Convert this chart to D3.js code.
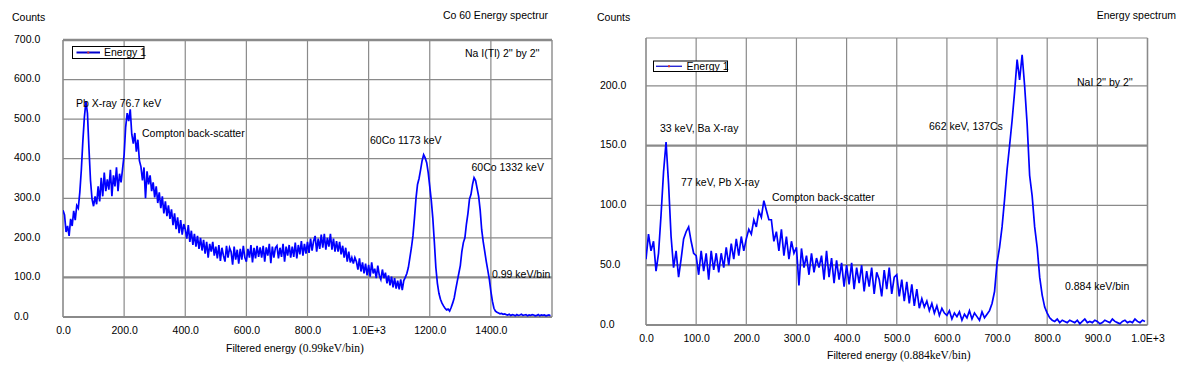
<!DOCTYPE html>
<html><head><meta charset="utf-8">
<script src="https://cdn.jsdelivr.net/npm/d3@7"></script>
<style>
html,body{margin:0;padding:0;background:#fff;}
svg{display:block;}
text{font-family:"Liberation Sans",Arial,sans-serif;fill:#000;}
</style></head>
<body>
<svg id="c" width="1192" height="367"></svg>
<script>
// ---------- Left chart: Co 60 spectrum (5 keV steps from 0) ----------
const coStep = 5;
const coCounts = [
270,258,215,230,205,248,230,268,245,282,
275,315,372,445,505,545,515,425,345,298,
280,305,285,330,292,352,305,365,318,348,
322,372,305,358,330,378,318,362,340,375,
410,480,515,495,525,462,438,465,418,448,
395,380,345,378,300,368,335,358,318,340,
302,330,288,315,275,305,262,292,255,282,
248,272,232,262,222,252,212,245,208,235,
222,198,232,190,218,182,210,178,205,172,
200,168,195,160,190,150,185,165,190,155,
178,148,182,142,175,155,140,180,150,175,
165,132,178,145,170,135,172,145,180,150,
140,172,150,182,138,175,148,180,152,176,
150,180,140,176,155,185,136,178,150,175,
180,148,175,152,185,140,178,155,182,150,
178,152,188,148,182,158,192,155,185,160,
190,162,198,168,192,205,165,198,172,208,
175,210,170,200,178,210,170,198,165,192,
165,190,158,180,150,175,140,165,138,150,
135,150,140,120,148,115,138,110,135,105,
132,102,138,110,122,98,130,105,95,120,
98,112,85,105,80,102,75,98,72,92,
70,95,68,92,100,110,125,150,175,205,
250,300,335,350,372,395,410,402,390,365,
330,295,250,190,125,85,60,45,35,28,
22,18,20,15,24,35,48,70,90,110,
130,165,188,200,235,262,298,310,335,352,
345,325,305,270,220,190,165,140,118,95,
65,40,22,15,12,10,8,9,7,8,
6,5,7,4,6,5,3,6,4,5,
7,4,5,6,3,5,4,6,5,3,
4,6,3,5,4,5,3,4,5,3
];
const coXTicks = [0,200,400,600,800,1000,1200,1400];
const coXLabels = ["0.0","200.0","400.0","600.0","800.0","1.0E+3","1200.0","1400.0"];
const coYTicks = [0,100,200,300,400,500,600,700];
const coYLabels = ["0.0","100.0","200.0","300.0","400.0","500.0","600.0","700.0"];

// ---------- Right chart: Cs 137 spectrum (5 keV steps from 0) ----------
const csStep = 5;
const csCounts = [
55,76,62,70,45,60,92,128,153,118,
74,48,62,40,55,72,78,82,70,60,
58,42,62,45,60,38,62,46,60,44,
60,48,65,50,68,55,72,58,74,62,
72,80,76,88,82,95,90,104,96,88,
88,70,78,62,80,58,74,55,70,60,
65,33,64,48,58,42,60,44,56,48,
58,38,62,40,56,35,54,38,52,32,
50,34,52,30,48,35,50,28,45,32,
48,26,44,38,24,46,30,48,26,40,
42,24,38,20,36,18,34,16,30,14,
22,15,20,12,18,10,16,8,14,10,
8,12,5,10,7,11,4,9,6,12,
5,10,7,4,11,6,9,12,18,28,
52,65,82,105,130,150,171,195,222,205,
226,200,168,125,108,82,65,40,25,15,
10,6,4,3,5,2,4,3,2,4,
3,2,4,1,3,5,2,3,2,4,
3,1,2,4,3,2,5,3,2,1,
3,4,2,3,2,5,3,2,4,3
];
const csXTicks = [0,100,200,300,400,500,600,700,800,900,1000];
const csXLabels = ["0.0","100.0","200.0","300.0","400.0","500.0","600.0","700.0","800.0","900.0","1.0E+3"];
const csYTicks = [0,50,100,150,200];
const csYLabels = ["0.0","50.0","100.0","150.0","200.0"];

const svg = d3.select("#c");

function drawChart(cfg) {
  const g = svg.append("g");
  const x = d3.scaleLinear().domain(cfg.xDomain).range([cfg.left, cfg.right]);
  const y = d3.scaleLinear().domain(cfg.yDomain).range([cfg.bottom, cfg.top]);

  g.append("g").selectAll("line").data(cfg.xTicks.filter(d => d > cfg.xDomain[0]))
    .join("line")
    .attr("x1", d => x(d)).attr("x2", d => x(d))
    .attr("y1", cfg.top).attr("y2", cfg.bottom)
    .attr("stroke", "#8a8a8a").attr("stroke-width", 1.2);
  g.append("g").selectAll("line").data(cfg.yTicks.filter(d => d > cfg.yDomain[0]))
    .join("line")
    .attr("x1", cfg.left).attr("x2", cfg.right)
    .attr("y1", d => y(d)).attr("y2", d => y(d))
    .attr("stroke", "#8a8a8a")
    .attr("stroke-width", d => cfg.heavy.includes(d) ? 2.2 : 1.2);
  g.append("line").attr("x1", cfg.left).attr("x2", cfg.right).attr("y1", cfg.top).attr("y2", cfg.top)
    .attr("stroke", "#8a8a8a").attr("stroke-width", cfg.topW);
  g.append("line").attr("x1", cfg.left).attr("x2", cfg.left).attr("y1", cfg.top).attr("y2", cfg.bottom)
    .attr("stroke", "#8a8a8a").attr("stroke-width", 1.6);
  g.append("line").attr("x1", cfg.right).attr("x2", cfg.right).attr("y1", cfg.top).attr("y2", cfg.bottom)
    .attr("stroke", "#8a8a8a").attr("stroke-width", 1.4);
  g.append("line").attr("x1", cfg.left).attr("x2", cfg.right).attr("y1", cfg.bottom).attr("y2", cfg.bottom)
    .attr("stroke", "#8a8a8a").attr("stroke-width", 1.8);

  const xa = g.append("g").attr("transform", `translate(0,${cfg.xLabelY})`)
    .call(d3.axisBottom(x).tickValues(cfg.xTicks).tickFormat((d, i) => cfg.xLabels[i]).tickSize(0).tickPadding(0));
  xa.select(".domain").remove();
  xa.selectAll("text").attr("y", 0).attr("dy", "0.35em")
    .style("font-family", '"Liberation Sans",Arial,sans-serif').style("font-size", "10.5px").attr("fill", "#000");

  const ya = g.append("g").attr("transform", `translate(${cfg.yLabelX},0)`)
    .call(d3.axisLeft(y).tickValues(cfg.yTicks).tickFormat((d, i) => cfg.yLabels[i]).tickSize(0).tickPadding(0));
  ya.select(".domain").remove();
  ya.selectAll("text").attr("x", 0).attr("dy", "0.35em").attr("text-anchor", "start")
    .attr("transform", "translate(0,-1.5)")
    .style("font-family", '"Liberation Sans",Arial,sans-serif').style("font-size", "10.5px").attr("fill", "#000");

  const clipId = "clip" + cfg.id;
  svg.append("clipPath").attr("id", clipId).append("rect")
    .attr("x", cfg.left).attr("y", cfg.top - 2).attr("width", cfg.right - cfg.left).attr("height", cfg.bottom - cfg.top + 2);
  const line = d3.line().x((d, i) => x(i * cfg.step)).y(d => y(d));
  g.append("path").datum(cfg.counts).attr("d", line).attr("clip-path", `url(#${clipId})`)
    .attr("fill", "none").attr("stroke", "#0000ff").attr("stroke-width", 1.7).attr("stroke-linejoin", "miter");

  const lg = g.append("g");
  lg.append("rect").attr("x", cfg.legend.x).attr("y", cfg.legend.y).attr("width", cfg.legend.w).attr("height", cfg.legend.h)
    .attr("fill", "#fff").attr("stroke", "#000").attr("stroke-width", 1);
  const ly = cfg.legend.y + cfg.legend.h / 2;
  lg.append("line").attr("x1", cfg.legend.l1).attr("x2", cfg.legend.l2).attr("y1", ly).attr("y2", ly)
    .attr("stroke", cfg.legend.lineColor).attr("stroke-width", cfg.legend.lw);
  lg.append("rect").attr("x", (cfg.legend.l1 + cfg.legend.l2) / 2 - 1).attr("y", ly - 1).attr("width", 2).attr("height", 2).attr("fill", "#d03030");
  lg.append("text").attr("x", cfg.legend.tx).attr("y", ly).attr("dy", "0.35em")
    .style("font-size", "10.5px").text(cfg.legend.text);

  cfg.texts.forEach(t => {
    const el = g.append("text").attr("x", t.x).attr("y", t.y).attr("dy", "0.35em")
      .attr("text-anchor", t.anchor || "start").style("font-size", (t.size || 10.5) + "px");
    if (t.parts) {
      t.parts.forEach(p => el.append("tspan").style("font-family", p.serif ? '"Liberation Serif","Times New Roman",serif' : null)
        .style("font-size", p.size ? p.size + "px" : null).text(p.t));
    } else el.text(t.t);
  });
}

drawChart({
  id: "L", counts: coCounts, step: coStep,
  xDomain: [0, 1600], yDomain: [0, 700],
  left: 63, right: 552, top: 40, bottom: 317,
  xTicks: coXTicks, xLabels: coXLabels, yTicks: coYTicks, yLabels: coYLabels,
  heavy: [100], topW: 2.6,
  xLabelY: 330, yLabelX: 14,
  legend: { x: 72.5, y: 46.5, w: 71.5, h: 12, l1: 76.5, l2: 100, lw: 2, lineColor: "#0000cc", tx: 104, text: "Energy 1" },
  texts: [
    { x: 12, y: 17, t: "Counts" },
    { x: 548, y: 15, t: "Co 60 Energy spectrur", anchor: "end" },
    { x: 465, y: 53.5, t: "Na I(Tl) 2'' by 2''" },
    { x: 76, y: 103, t: "Pb X-ray 76.7 keV" },
    { x: 142, y: 133.5, t: "Compton back-scatter" },
    { x: 370, y: 140, t: "60Co 1173 keV" },
    { x: 471.5, y: 167.5, t: "60Co  1332 keV" },
    { x: 492, y: 274.5, t: "0.99 keV/bin" },
    { x: 226, y: 348, parts: [{ t: "Filtered energy  " }, { t: "(0.99keV/bin)", serif: true, size: 11.5 }] }
  ]
});

drawChart({
  id: "R", counts: csCounts, step: csStep,
  xDomain: [0, 1000], yDomain: [0, 240],
  left: 646, right: 1147.5, top: 38, bottom: 325,
  xTicks: csXTicks, xLabels: csXLabels, yTicks: csYTicks, yLabels: csYLabels,
  heavy: [50, 150], topW: 1.2,
  xLabelY: 338, yLabelX: 600,
  legend: { x: 653.5, y: 61, w: 74, h: 10.5, l1: 656, l2: 682, lw: 1.2, lineColor: "#0000cc", tx: 686.5, text: "Energy 1" },
  texts: [
    { x: 597, y: 17, t: "Counts" },
    { x: 1176, y: 15, t: "Energy spectrum", anchor: "end" },
    { x: 1077, y: 82, t: "NaI 2'' by 2''" },
    { x: 929, y: 126, t: "662 keV, 137Cs" },
    { x: 660, y: 128.5, t: "33 keV, Ba X-ray" },
    { x: 681, y: 182, t: "77 keV, Pb X-ray" },
    { x: 772, y: 197.5, t: "Compton back-scatter" },
    { x: 1065, y: 286, t: "0.884 keV/bin" },
    { x: 827, y: 355, parts: [{ t: "Filtered energy  " }, { t: "(0.884keV/bin)", serif: true, size: 11.5 }] }
  ]
});
</script>
</body></html>
